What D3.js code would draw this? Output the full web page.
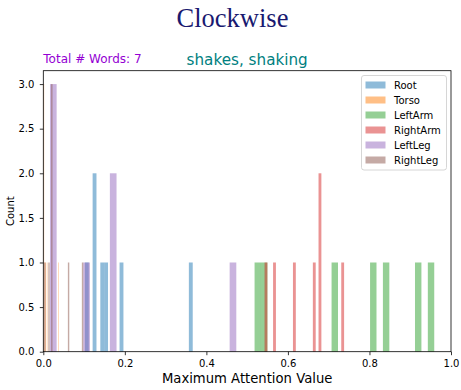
<!DOCTYPE html>
<html>
<head>
<meta charset="utf-8">
<script src="https://cdn.jsdelivr.net/npm/d3@7"></script>
<style>
  body { margin: 0; background: #fff; }
  svg { display: block; }
</style>
</head>
<body>
<svg id="chart" width="461" height="390"></svg>
<script>
// Per-joint maximum attention values, one entry per word
const seriesNames = ["Root", "Torso", "LeftArm", "RightArm", "LeftLeg", "RightLeg"];
const seriesColors = ["#1f77b4", "#ff7f0e", "#2ca02c", "#d62728", "#9467bd", "#8c564b"];
const rootValues = [0.1021, 0.125, 0.127, 0.1446, 0.1540, 0.1918, 0.3665];
const torsoValues = [0.0008, 0.0009, 0.0010, 0.0040, 0.0058, 0.0095, 0.0377];
const leftArmValues = [0.5182, 0.5418, 0.7150, 0.8094, 0.8409, 0.9217, 0.9589];
const rightArmValues = [0.5427, 0.5671, 0.6159, 0.6646, 0.6786, 0.6790, 0.7378];
const leftLegValues = [0.0164, 0.020, 0.026, 0.110, 0.166, 0.172, 0.4734];
const rightLegValues = [0.002, 0.014, 0.0205, 0.0209, 0.0213, 0.062, 0.098];
const seriesValues = [rootValues, torsoValues, leftArmValues, rightArmValues, leftLegValues, rightLegValues];

const binCount = 28;
const xTicks = [0, 0.2, 0.4, 0.6, 0.8, 1.0];
const yTicks = [0, 0.5, 1.0, 1.5, 2.0, 2.5, 3.0];
const figTitle = "Clockwise";
const axesTitle = "shakes, shaking";
const wordCountText = "Total # Words: 7";
const xLabel = "Maximum Attention Value";
const yLabel = "Count";

const svg = d3.select("#chart");
const plot = { left: 43.3, right: 451, top: 70.7, bottom: 351.7 };
const sans = "'DejaVu Sans', sans-serif";

const x = d3.scaleLinear().domain([0, 1]).range([plot.left, plot.right]);
const y = d3.scaleLinear().domain([0, 3.15]).range([plot.bottom, plot.top]);

// Figure title and annotations
svg.append("text")
  .attr("x", 232.5).attr("y", 26.5)
  .attr("text-anchor", "middle")
  .attr("font-family", "'Liberation Serif', 'Times New Roman', serif")
  .attr("font-size", 26.5)
  .attr("fill", "#191970")
  .text(figTitle);

svg.append("text")
  .attr("x", plot.left).attr("y", 62.7)
  .attr("font-family", sans).attr("font-size", 12)
  .attr("fill", "#9400d3")
  .text(wordCountText);

svg.append("text")
  .attr("x", (plot.left + plot.right) / 2).attr("y", 65)
  .attr("text-anchor", "middle")
  .attr("font-family", sans).attr("font-size", 15.2)
  .attr("fill", "#008080")
  .text(axesTitle);

// Histogram bars: equal-width bins spanning each series' own range
const barsG = svg.append("g");
seriesValues.forEach((vals, si) => {
  const lo = d3.min(vals), hi = d3.max(vals);
  const thresholds = d3.range(1, binCount).map(i => lo + (hi - lo) * i / binCount);
  const bins = d3.bin().domain([lo, hi]).thresholds(thresholds)(vals);
  barsG.append("g")
    .attr("fill", seriesColors[si])
    .attr("fill-opacity", 0.5)
    .selectAll("rect")
    .data(bins.filter(b => b.length > 0))
    .join("rect")
    .attr("x", b => x(b.x0))
    .attr("width", b => x(b.x1) - x(b.x0))
    .attr("y", b => y(b.length))
    .attr("height", b => y(0) - y(b.length));
});

// Axes
const xAxis = svg.append("g")
  .attr("transform", `translate(0,${plot.bottom})`)
  .call(d3.axisBottom(x).tickValues(xTicks).tickFormat(d3.format(".1f")).tickSize(3.5).tickPadding(4.8));
const yAxis = svg.append("g")
  .attr("transform", `translate(${plot.left},0)`)
  .call(d3.axisLeft(y).tickValues(yTicks).tickFormat(d3.format(".1f")).tickSize(3.5).tickPadding(5.5));
[xAxis, yAxis].forEach(g => {
  g.select(".domain").remove();
  g.selectAll(".tick line").attr("stroke", "#000").attr("stroke-width", 0.8);
  g.selectAll(".tick text").attr("fill", "#000").attr("font-family", sans).attr("font-size", 10);
});

svg.append("rect")
  .attr("x", plot.left).attr("y", plot.top)
  .attr("width", plot.right - plot.left).attr("height", plot.bottom - plot.top)
  .attr("fill", "none").attr("stroke", "#000").attr("stroke-width", 0.8);

svg.append("text")
  .attr("x", (plot.left + plot.right) / 2).attr("y", 383)
  .attr("text-anchor", "middle")
  .attr("font-family", sans).attr("font-size", 13.2)
  .attr("fill", "#000")
  .text(xLabel);

svg.append("text")
  .attr("transform", `translate(14,${(plot.top + plot.bottom) / 2}) rotate(-90)`)
  .attr("text-anchor", "middle")
  .attr("font-family", sans).attr("font-size", 10)
  .attr("fill", "#000")
  .text(yLabel);

// Legend
const legend = svg.append("g");
legend.append("rect")
  .attr("x", 361.5).attr("y", 75.5)
  .attr("width", 85).attr("height", 94.5)
  .attr("rx", 2.5)
  .attr("fill", "#fff").attr("fill-opacity", 0.8)
  .attr("stroke", "#cccccc").attr("stroke-width", 0.8);
seriesNames.forEach((name, i) => {
  const cy = 85 + i * 15;
  legend.append("rect")
    .attr("x", 365.5).attr("y", cy - 3.5)
    .attr("width", 20).attr("height", 7)
    .attr("fill", seriesColors[i]).attr("fill-opacity", 0.5);
  legend.append("text")
    .attr("x", 394).attr("y", cy + 3.6)
    .attr("font-family", sans).attr("font-size", 10)
    .attr("fill", "#000")
    .text(name);
});
</script>
</body>
</html>
